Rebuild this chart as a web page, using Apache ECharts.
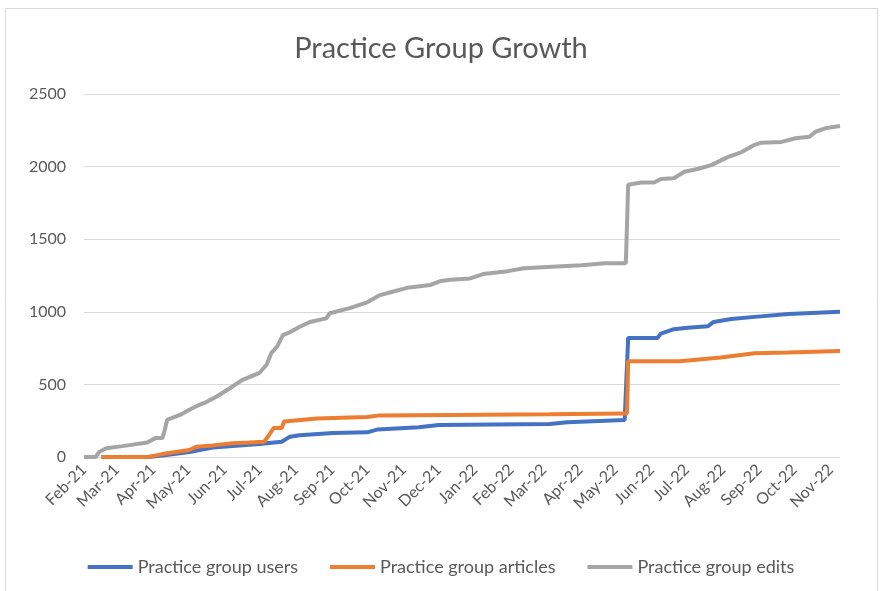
<!DOCTYPE html>
<html>
<head>
<meta charset="utf-8">
<script src="https://cdn.jsdelivr.net/npm/echarts@6/dist/echarts.min.js"></script>
<style>
  html, body { margin: 0; padding: 0; background: #fff; }
  #chart { width: 882px; height: 591px; }
</style>
</head>
<body>
<div id="chart"></div>
<script>
// tick labels on the date axis (first day of each month)
const monthTicks = [
    '2021-02-01', '2021-03-01', '2021-04-01', '2021-05-01', '2021-06-01', '2021-07-01',
    '2021-08-01', '2021-09-01', '2021-10-01', '2021-11-01', '2021-12-01', '2022-01-01',
    '2022-02-01', '2022-03-01', '2022-04-01', '2022-05-01', '2022-06-01', '2022-07-01',
    '2022-08-01', '2022-09-01', '2022-10-01', '2022-11-01'
];
const monthNames = ['Jan', 'Feb', 'Mar', 'Apr', 'May', 'Jun', 'Jul', 'Aug', 'Sep', 'Oct', 'Nov', 'Dec'];
const yTicks = [0, 500, 1000, 1500, 2000, 2500];

// Practice group users
const usersDates = [
    '2021-02-16', '2021-03-28', '2021-04-09', '2021-05-02', '2021-05-22', '2021-07-01',
    '2021-07-07', '2021-07-20', '2021-07-27', '2021-08-04', '2021-09-02', '2021-10-01',
    '2021-10-10', '2021-11-14', '2021-12-01', '2022-03-06', '2022-03-21', '2022-05-09',
    '2022-05-10', '2022-05-12', '2022-06-06', '2022-06-09', '2022-06-20', '2022-07-02',
    '2022-07-19', '2022-07-24', '2022-08-08', '2022-08-28', '2022-09-26', '2022-11-09'
];
const usersValues = [
    0, 0, 10, 35, 65, 90,
    95, 105, 140, 150, 165, 170,
    190, 205, 220, 227, 240, 255,
    255, 820, 820, 850, 880, 890,
    900, 930, 950, 965, 985, 1000
];

// Practice group articles
const articlesDates = [
    '2021-02-16', '2021-03-28', '2021-04-09', '2021-05-02', '2021-05-08', '2021-05-22',
    '2021-06-08', '2021-06-22', '2021-07-05', '2021-07-09', '2021-07-13', '2021-07-20',
    '2021-07-22', '2021-08-19', '2021-10-01', '2021-10-10', '2021-12-11', '2022-03-06',
    '2022-05-09', '2022-05-11', '2022-05-12', '2022-06-25', '2022-07-30', '2022-08-28',
    '2022-09-26', '2022-11-09'
];
const articlesValues = [
    0, 0, 20, 48, 70, 80,
    95, 100, 105, 150, 200, 200,
    245, 265, 275, 285, 290, 295,
    300, 300, 660, 660, 685, 715,
    720, 730
];

// Practice group edits
const editsDates = [
    '2021-02-01', '2021-02-11', '2021-02-14', '2021-02-20', '2021-03-06', '2021-03-27',
    '2021-04-03', '2021-04-09', '2021-04-11', '2021-04-13', '2021-04-24', '2021-05-02',
    '2021-05-08', '2021-05-17', '2021-05-25', '2021-06-05', '2021-06-16', '2021-07-01',
    '2021-07-07', '2021-07-11', '2021-07-16', '2021-07-21', '2021-07-27', '2021-08-04',
    '2021-08-13', '2021-08-27', '2021-08-30', '2021-09-16', '2021-10-01', '2021-10-12',
    '2021-10-21', '2021-11-04', '2021-11-24', '2021-12-02', '2021-12-11', '2021-12-28',
    '2022-01-08', '2022-01-29', '2022-02-12', '2022-03-08', '2022-04-02', '2022-04-22',
    '2022-05-10', '2022-05-12', '2022-05-23', '2022-06-03', '2022-06-09', '2022-06-20',
    '2022-06-29', '2022-07-11', '2022-07-22', '2022-08-05', '2022-08-17', '2022-08-28',
    '2022-09-03', '2022-09-20', '2022-10-02', '2022-10-14', '2022-10-19', '2022-10-28',
    '2022-11-09'
];
const editsValues = [
    0, 0, 35, 60, 75, 100,
    130, 130, 185, 255, 290, 325,
    350, 380, 415, 470, 530, 580,
    635, 715, 760, 840, 860, 895,
    930, 955, 990, 1025, 1065, 1115,
    1135, 1165, 1185, 1210, 1220, 1230,
    1260, 1280, 1300, 1310, 1320, 1335,
    1335, 1875, 1890, 1890, 1915, 1920,
    1965, 1985, 2010, 2065, 2100, 2150,
    2165, 2170, 2195, 2205, 2240, 2265,
    2280
];

// dates as day numbers (UTC), so the x axis is a plain value axis
function toDay(s) {
    const p = s.split('-');
    return Date.UTC(+p[0], +p[1] - 1, +p[2]) / 86400000;
}

function pairs(dates, values) {
    return dates.map((d, i) => [toDay(d), values[i]]);
}

document.addEventListener('DOMContentLoaded', function () {
    const chart = echarts.init(document.getElementById('chart'));
    const font = 'Lato, "Open Sans", sans-serif';
    const textColor = '#595959';

    chart.setOption({
        animation: false,
        textStyle: { fontFamily: font },
        graphic: [{
            type: 'rect',
            shape: { x: 5.5, y: 8.5, width: 872, height: 600 },
            style: { fill: null, stroke: '#d9d9d9', lineWidth: 1 }
        }],
        title: {
            text: 'Practice Group Growth',
            left: 'center',
            top: 29,
            textStyle: { fontFamily: font, fontSize: 29, fontWeight: 'normal', color: textColor }
        },
        legend: {
            top: 553,
            left: 'center',
            icon: 'rect',
            itemWidth: 45,
            itemHeight: 4,
            itemGap: 32,
            textStyle: { fontFamily: font, fontSize: 18, color: textColor },
            data: ['Practice group users', 'Practice group articles', 'Practice group edits']
        },
        grid: { left: 84, right: 42, top: 94, bottom: 134, containLabel: false },
        xAxis: {
            type: 'value',
            min: toDay(monthTicks[0]),
            max: toDay('2022-11-09'),
            axisLine: { show: false },
            axisTick: { show: false },
            splitLine: { show: false },
            axisLabel: {
                customValues: monthTicks.map(toDay),
                rotate: 45,
                margin: 10,
                fontSize: 16,
                color: textColor,
                fontFamily: font,
                hideOverlap: false,
                showMinLabel: true,
                showMaxLabel: true,
                formatter: function (v) {
                    const d = new Date(v * 86400000);
                    return monthNames[d.getUTCMonth()] + '-' + String(d.getUTCFullYear()).slice(2);
                }
            }
        },
        yAxis: {
            type: 'value',
            min: yTicks[0],
            max: yTicks[yTicks.length - 1],
            interval: 500,
            axisLine: { show: false },
            axisTick: { show: false },
            axisLabel: {
                fontSize: 16, color: textColor, fontFamily: font, margin: 18,
                formatter: function (v) { return String(v); }
            },
            splitLine: { lineStyle: { color: '#d9d9d9', width: 1 } }
        },
        series: [
            {
                name: 'Practice group users',
                type: 'line',
                showSymbol: false,
                data: pairs(usersDates, usersValues),
                itemStyle: { color: '#4472C4' },
                lineStyle: { color: '#4472C4', width: 4 }
            },
            {
                name: 'Practice group articles',
                type: 'line',
                showSymbol: false,
                data: pairs(articlesDates, articlesValues),
                itemStyle: { color: '#ED7D31' },
                lineStyle: { color: '#ED7D31', width: 4 }
            },
            {
                name: 'Practice group edits',
                type: 'line',
                showSymbol: false,
                data: pairs(editsDates, editsValues),
                itemStyle: { color: '#A5A5A5' },
                lineStyle: { color: '#A5A5A5', width: 4 }
            }
        ]
    });
});
</script>
</body>
</html>
